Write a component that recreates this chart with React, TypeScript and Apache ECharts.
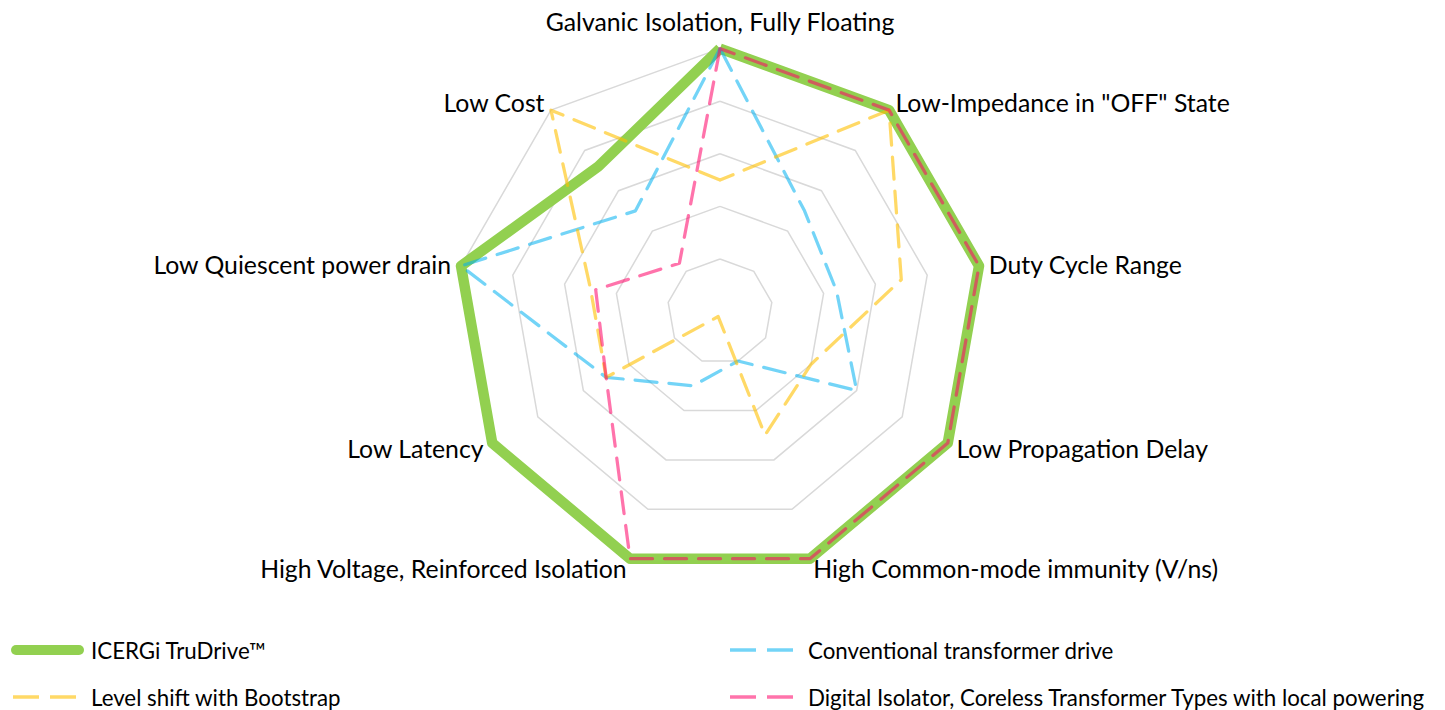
import React, { useEffect, useRef } from "react";
import * as echarts from "echarts";

// Indicators in ECharts order (counter-clockwise from the top)
const indicatorNames = [
  "Galvanic Isolation, Fully Floating",
  "Low Cost",
  "Low Quiescent power drain",
  "Low Latency",
  "High Voltage, Reinforced Isolation",
  "High Common-mode immunity (V/ns)",
  "Low Propagation Delay",
  "Duty Cycle Range",
  'Low-Impedance in "OFF" State',
];
const axisMax = 5;

const seriesNames = [
  "ICERGi TruDrive™",
  "Conventional transformer drive",
  "Level shift with Bootstrap",
  "Digital Isolator, Coreless Transformer Types with local powering",
];

const truDrive = [5, 3.6, 5, 5, 5, 5, 5, 5, 5];
const conventional = [5, 2.5, 5, 2.5, 1.5, 1, 3, 2.25, 2.5];
const levelShift = [2.5, 5, 2.5, 2.5, 0.1, 2.5, 2, 3.5, 5];
const digitalIsolator = [5, 1.2, 2.4, 2.5, 5, 5, 5, 5, 5];

const GREEN = "#92D050";
const BLUE = "rgba(0,176,240,0.55)";
const YELLOW = "rgba(255,192,0,0.6)";
const PINK = "rgba(255,0,102,0.55)";

const FONT = "Lato";

const solidIcon =
  "path://M5,0 L68,0 A5,5 0 0 1 68,10 L5,10 A5,5 0 0 1 5,0 Z";
const dashIcon =
  "path://M0,0 L0,0 M2,3.25 L28,3.25 L28,6.75 L2,6.75 Z M39,3.25 L65,3.25 L65,6.75 L39,6.75 Z M73,10 L73,10";

export default function App() {
  const ref = useRef<HTMLDivElement>(null);

  useEffect(() => {
    if (!ref.current) return;
    const chart = echarts.init(ref.current, null, { renderer: "svg" });

    const dashed = (color: string) => ({
      color,
      width: 3.25,
      type: [22, 12] as number[],
      cap: "round" as const,
    });

    const legendText = {
      fontFamily: FONT,
      fontSize: 22.3,
      color: "#000",
      padding: [0, 0, 0, 2],
    };

    const option: any = {
      animation: false,
      backgroundColor: "#fff",
      radar: {
        center: [720, 311.6],
        radius: 263,
        startAngle: 90,
        splitNumber: 5,
        shape: "polygon",
        nameGap: 10,
        indicator: indicatorNames.map((n) => ({ name: n, min: 0, max: axisMax })),
        axisName: {
          color: "#000",
          fontFamily: FONT,
          fontSize: 24.8,
          formatter: (name: string) =>
            name === indicatorNames[0] ? `{top|${name}}` : name,
          rich: {
            top: {
              fontFamily: FONT,
              fontSize: 24.8,
              color: "#000",
              padding: [0, 0, 5, 0],
            },
          },
        },
        axisLine: { show: false },
        axisTick: { show: false },
        axisLabel: { show: false },
        splitArea: { show: false },
        splitLine: { lineStyle: { color: "#d9d9d9", width: 1.5 } },
      },
      legend: [
        {
          orient: "vertical",
          left: 11,
          top: 639,
          padding: 0,
          itemWidth: 73,
          itemHeight: 10,
          itemGap: 25,
          selectedMode: false,
          textStyle: legendText,
          data: [
            { name: seriesNames[0], icon: solidIcon, itemStyle: { color: GREEN, borderWidth: 0 } },
            { name: seriesNames[2], icon: dashIcon, itemStyle: { color: YELLOW, borderWidth: 0 } },
          ],
        },
        {
          orient: "vertical",
          left: 728,
          top: 639,
          padding: 0,
          itemWidth: 73,
          itemHeight: 10,
          itemGap: 25,
          selectedMode: false,
          textStyle: legendText,
          data: [
            { name: seriesNames[1], icon: dashIcon, itemStyle: { color: BLUE, borderWidth: 0 } },
            { name: seriesNames[3], icon: dashIcon, itemStyle: { color: PINK, borderWidth: 0 } },
          ],
        },
      ],
      series: [
        {
          type: "radar",
          name: seriesNames[0],
          symbol: "none",
          itemStyle: { color: GREEN },
          lineStyle: { color: GREEN, width: 10.5 },
          data: [{ name: seriesNames[0], value: truDrive }],
        },
        {
          type: "radar",
          name: seriesNames[1],
          symbol: "none",
          itemStyle: { color: BLUE },
          lineStyle: dashed(BLUE),
          data: [{ name: seriesNames[1], value: conventional }],
        },
        {
          type: "radar",
          name: seriesNames[2],
          symbol: "none",
          itemStyle: { color: YELLOW },
          lineStyle: dashed(YELLOW),
          data: [{ name: seriesNames[2], value: levelShift }],
        },
        {
          type: "radar",
          name: seriesNames[3],
          symbol: "none",
          itemStyle: { color: PINK },
          lineStyle: dashed(PINK),
          data: [{ name: seriesNames[3], value: digitalIsolator }],
        },
      ],
    };

    chart.setOption(option);
    return () => chart.dispose();
  }, []);

  return (
    <div
      ref={ref}
      style={{
        position: "fixed",
        left: 0,
        top: 0,
        width: 1445,
        height: 710,
        background: "#fff",
      }}
    />
  );
}
